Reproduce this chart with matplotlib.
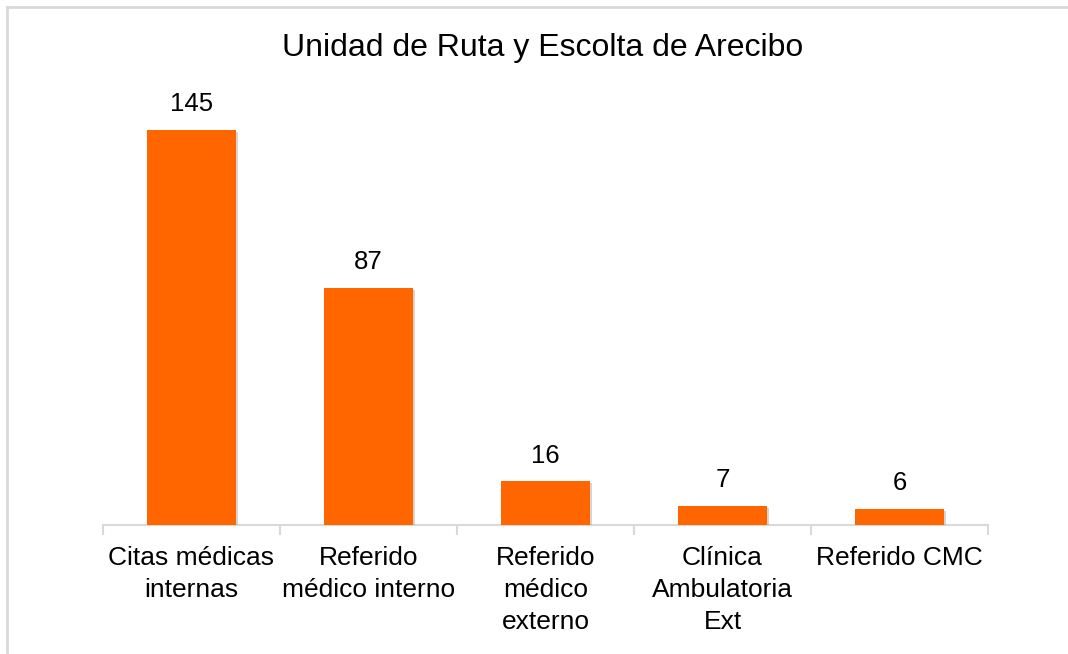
import matplotlib.pyplot as plt
import matplotlib.patheffects as pe
from matplotlib.lines import Line2D
import numpy as np

# data
categories = ["Citas médicas\ninternas", "Referido\nmédico interno", "Referido\nmédico\nexterno",
              "Clínica\nAmbulatoria\nExt", "Referido CMC"]
values = [145, 87, 16, 7, 6]
title = "Unidad de Ruta y Escolta de Arecibo"

plt.rcParams['font.family'] = ['Liberation Sans', 'DejaVu Sans']

W, H = 1068, 654
fig = plt.figure(figsize=(W / 100, H / 100), dpi=100)

# axes placed in pixel terms: baseline at y=525, spans x 103..988
left, right = 103, 988
base, top = 525, 89
ax = fig.add_axes([left / W, (H - base) / H, (right - left) / W, (base - top) / H])

x = np.arange(len(values))
bars = ax.bar(x, values, width=0.5, color="#FF6600", zorder=3)
for b in bars:
    b.set_path_effects([pe.SimplePatchShadow(offset=(1.5, -1.5), shadow_rgbFace="#888888", alpha=0.35),
                        pe.Normal()])

for xi, v in zip(x, values):
    ax.annotate(str(v), (xi, v), xytext=(0, 10), textcoords="offset points",
                ha="center", va="bottom", fontsize=18.5)

ax.set_xlim(-0.5, len(values) - 0.5)
ax.set_ylim(0, 160)

for s in ["top", "right", "left"]:
    ax.spines[s].set_visible(False)
ax.spines["bottom"].set_color("#d9d9d9")
ax.spines["bottom"].set_linewidth(1.5)

ax.set_yticks([])
ax.set_xticks(x)
ax.set_xticklabels(categories, fontsize=19, linespacing=1.42)
ax.tick_params(axis="x", which="major", length=0, pad=15)
ax.set_xticks(np.arange(len(values) + 1) - 0.5, minor=True)
ax.tick_params(axis="x", which="minor", length=7, width=1.5, color="#d9d9d9")

fig.text(543 / W, 1 - 48 / H, title, ha="center", va="center", fontsize=23)

# outer chart frame (cropped: only left and top edges visible)
fig.add_artist(Line2D([7 / W, 7 / W], [1 - 7 / H, 0.003], color="#d9d9d9", lw=2, transform=fig.transFigure))
fig.add_artist(Line2D([7 / W, 1.0], [1 - 7 / H, 1 - 7 / H], color="#d9d9d9", lw=2, transform=fig.transFigure))

fig.savefig("out.png", dpi=100)
